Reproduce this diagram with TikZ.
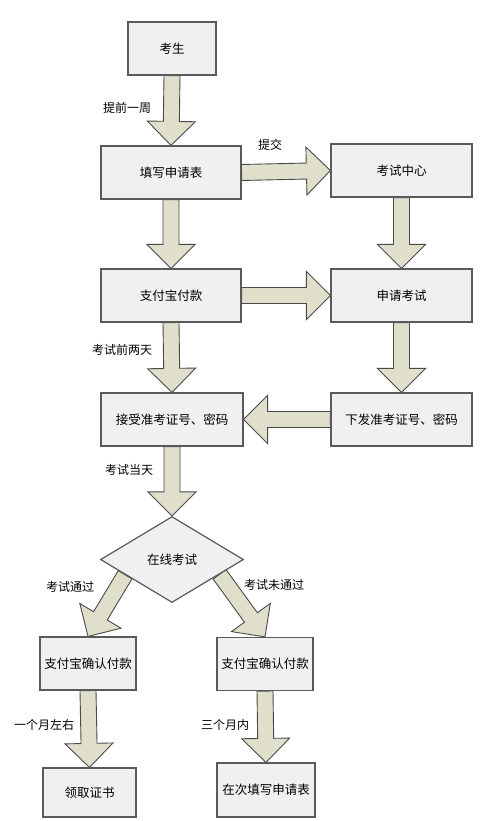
\documentclass[tikz,border=0pt]{standalone}
\usepackage{fontspec}
\setmainfont{Noto Sans CJK SC}
\usetikzlibrary{calc,shapes.geometric,backgrounds}

\definecolor{boxfill}{HTML}{F0F0F0}
\definecolor{boxline}{HTML}{5A5A5A}
\definecolor{arrfill}{HTML}{DFDFCB}
\definecolor{arrline}{HTML}{4A4A4A}

\tikzset{
	stepbox/.style={draw=boxline, fill=boxfill, line width=1.2pt, minimum width=140pt,
		minimum height=53pt, inner sep=0pt, font=\fontsize{12.5}{15}\selectfont},
	smallbox/.style={stepbox, minimum width=96pt},
	testbox/.style={stepbox, diamond, minimum width=143pt, minimum height=86pt},
	fat/.style={draw=arrline, fill=arrfill, line width=0.9pt, line join=miter},
	lbl/.style={inner sep=0pt, font=\fontsize{12}{14}\selectfont}
}

% fat arrow from #1 to #2
\newcommand{\fatarrow}[2]{%
	\path ($(#2)!24pt!(#1)$) coordinate (ah);
	\draw[fat] ($(#1)!8pt!90:(#2)$) -- ($(ah)!8pt!-90:(#1)$) -- ($(ah)!24pt!-90:(#1)$)
		-- (#2) -- ($(ah)!24pt!90:(#1)$) -- ($(ah)!8pt!90:(#1)$) -- ($(#1)!8pt!-90:(#2)$) -- cycle;
}

\begin{document}
\begin{tikzpicture}[x=1pt,y=-1pt]
	\useasboundingbox (0,0) rectangle (491,821);

	% LEFT COLUMN
	\node[stepbox, minimum width=88pt] (ks) at (172,48.5) {考生};
	\node[stepbox] (tx) at (171,172.5) {填写申请表};
	\node[stepbox] (zf) at (171,295.5) {支付宝付款};
	\node[stepbox, minimum width=142pt] (js) at (172,419.5) {接受准考证号、密码};

	% RIGHT COLUMN
	\node[stepbox, minimum width=141pt] (zx) at (401.5,170.5) {考试中心};
	\node[stepbox, minimum width=141pt] (sq) at (401.5,295.5) {申请考试};
	\node[stepbox, minimum width=141pt] (xf) at (401.5,419.5) {下发准考证号、密码};

	% EXAM
	\node[testbox] (zs) at (172,559.5) {在线考试};
	\node[smallbox] (qr1) at (88,663.5) {支付宝确认付款};
	\node[smallbox] (qr2) at (265,664) {支付宝确认付款};
	\node[smallbox, minimum width=93pt, minimum height=49pt] (lq) at (89.5,792.5) {领取证书};
	\node[smallbox, minimum width=98pt, minimum height=54pt] (zc) at (266,790) {在次填写申请表};

	\coordinate (zsl) at ($(zs.west)!0.35!(zs.south)$);
	\coordinate (zsr) at ($(zs.east)!0.34!(zs.south)$);

	% ARROWS
	\begin{pgfonlayer}{background}
		\fatarrow{ks.south}{tx.north}
		\fatarrow{tx.east}{zx.west}
		\fatarrow{tx.south}{zf.north}
		\fatarrow{zx.south}{sq.north}
		\fatarrow{zf.east}{sq.west}
		\fatarrow{zf.south}{js.north}
		\fatarrow{sq.south}{xf.north}
		\fatarrow{xf.west}{js.east}
		\fatarrow{js.south}{zs.north}
		\fatarrow{zsl}{qr1.north}
		\fatarrow{zsr}{qr2.north}
		\fatarrow{qr1.south}{lq.north}
		\fatarrow{qr2.south}{zc.north}
	\end{pgfonlayer}

	% LABELS
	\node[lbl] (l1) at (127,108) {提前一周};
	\node[lbl] (l2) at (270,145) {提交};
	\node[lbl] (l3) at (122,350) {考试前两天};
	\node[lbl] (l4) at (129,470) {考试当天};
	\node[lbl] (l5) at (70,587) {考试通过};
	\node[lbl] (l6) at (274,585) {考试未通过};
	\node[lbl] (l7) at (44,725) {一个月左右};
	\node[lbl] (l8) at (225,725) {三个月内};
\end{tikzpicture}
\end{document}
